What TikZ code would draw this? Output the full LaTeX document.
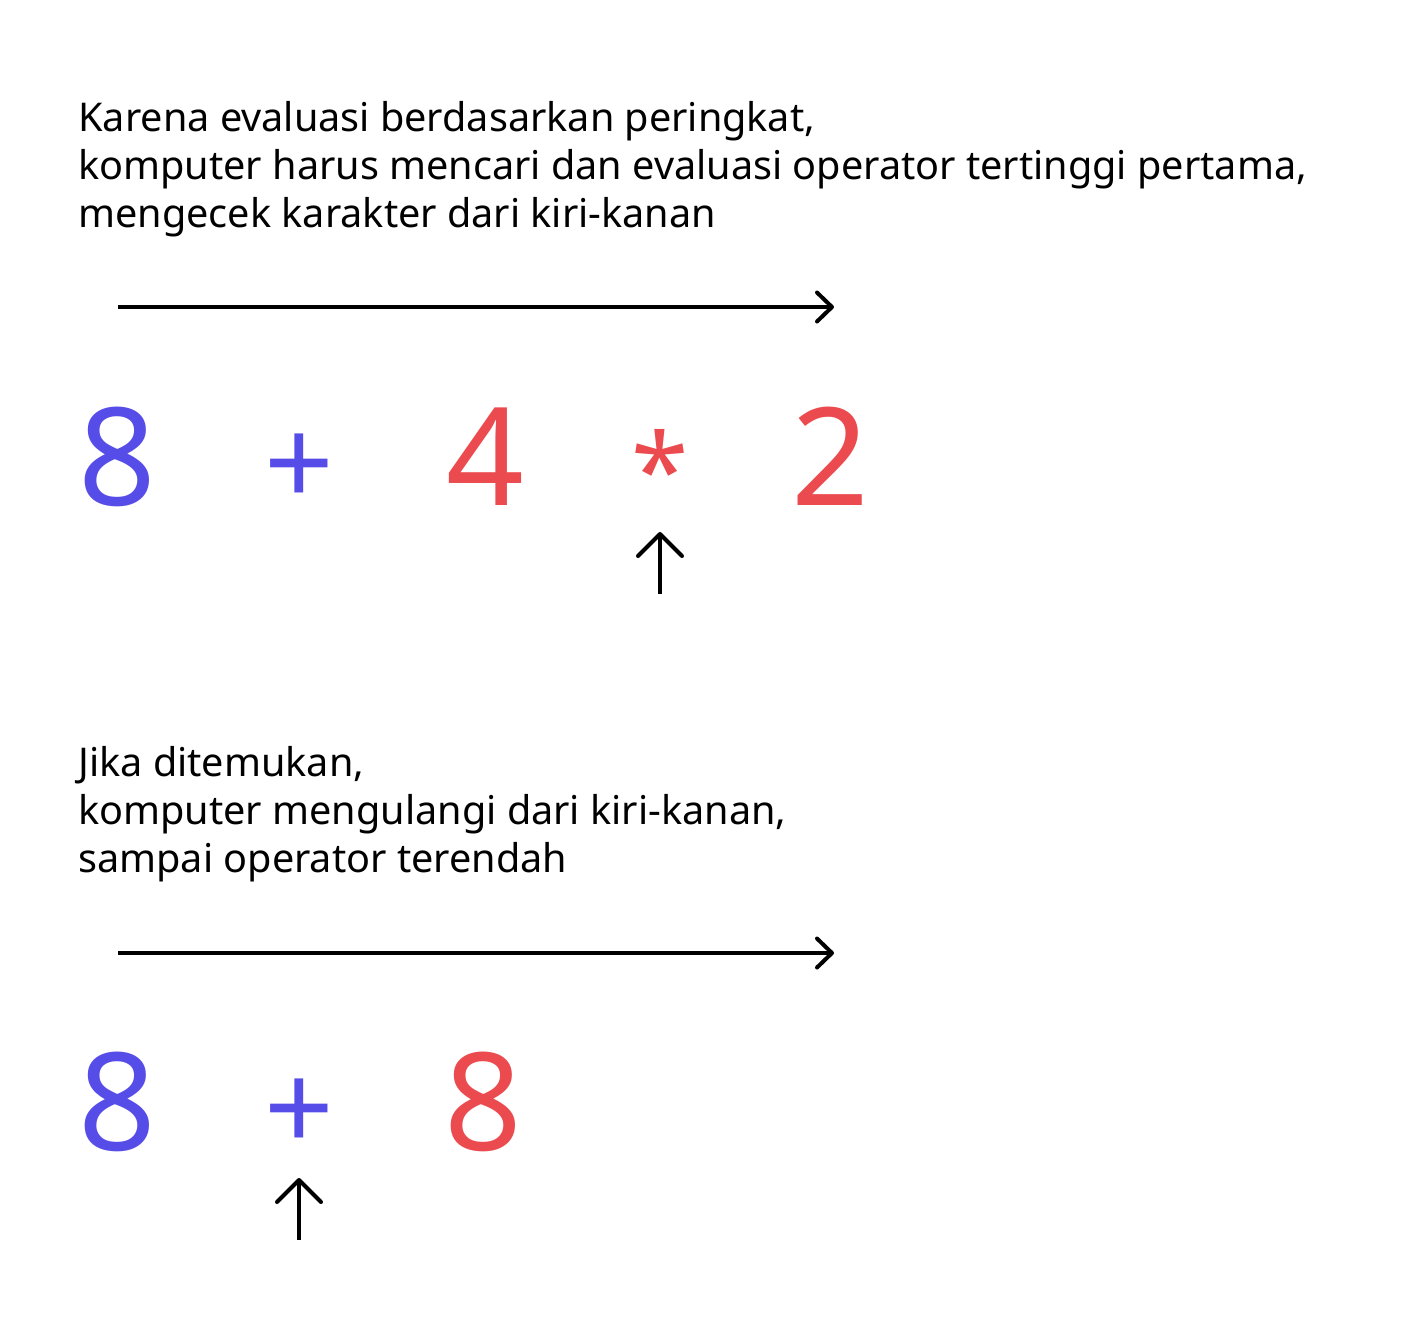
\documentclass[tikz,border=0pt]{standalone}
\usepackage{fontspec}
\setmainfont{Noto Sans}
\usetikzlibrary{arrows.meta}
\definecolor{opblue}{HTML}{564CE8}
\definecolor{opred}{HTML}{EB4A4E}
\tikzset{
  txt/.style={anchor=base west, inner sep=0pt, font=\fontsize{19.8pt}{24pt}\selectfont},
  bigsym/.style={anchor=base, inner sep=0pt, font=\fontsize{68pt}{70pt}\selectfont},
  plussym/.style={anchor=center, inner sep=0pt, font=\fontsize{61pt}{64pt}\selectfont},
  starsym/.style={anchor=center, inner sep=0pt, font=\fontsize{52pt}{56pt}\selectfont},
  conn/.style={line width=2pt, -{Straight Barb[length=7.5pt, width=14.5pt, line width=2pt, line cap=round, line join=round]}},
  upconn/.style={line width=2pt, -{Straight Barb[length=11pt, width=22pt, line width=2pt, line cap=round, line join=round]}}
}
\begin{document}
\begin{tikzpicture}[x=0.5pt, y=-0.5pt]
\useasboundingbox (0,0) rectangle (1424,1330);
\node[txt] (l1) at (78,131) {Karena evaluasi berdasarkan peringkat,};
\node[txt] (l2) at (78,179) {komputer harus mencari dan evaluasi operator tertinggi pertama,};
\node[txt] (l3) at (78,227) {mengecek karakter dari kiri-kanan};
\coordinate (a1s) at (118,307);
\coordinate (a1e) at (834,307);
\draw[conn] (a1s) -- (a1e);
\node[bigsym, text=opblue] (n8) at (117,505) {8};
\node[plussym, text=opblue] (plus1) at (299,470) {+};
\node[bigsym, text=opred] (n4) at (485,505) {4};
\node[starsym, text=opred] (star) at (660,469) {*};
\node[bigsym, text=opred] (n2) at (830,505) {2};
\coordinate (u1s) at (660,594);
\coordinate (u1e) at (660,532);
\draw[upconn] (u1s) -- (u1e);
\node[txt] (m1) at (78,776) {Jika ditemukan,};
\node[txt] (m2) at (78,824) {komputer mengulangi dari kiri-kanan,};
\node[txt] (m3) at (78,872) {sampai operator terendah};
\coordinate (a2s) at (118,953);
\coordinate (a2e) at (834,953);
\draw[conn] (a2s) -- (a2e);
\node[bigsym, text=opblue] (b8) at (117,1150) {8};
\node[plussym, text=opblue] (plus2) at (299,1115) {+};
\node[bigsym, text=opred] (r8) at (483,1150) {8};
\coordinate (u2s) at (299,1240);
\coordinate (u2e) at (299,1178);
\draw[upconn] (u2s) -- (u2e);
\end{tikzpicture}
\end{document}
